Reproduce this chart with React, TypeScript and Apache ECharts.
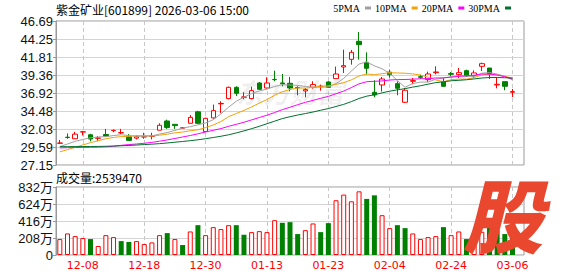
import React, { useEffect, useRef } from 'react';
import * as echarts from 'echarts';

const dates = [
  '12-03','12-04','12-05','12-08','12-09','12-10','12-11','12-12','12-15','12-16',
  '12-17','12-18','12-19','12-22','12-23','12-24','12-25','12-26','12-29','12-30',
  '12-31','01-05','01-06','01-07','01-08','01-09','01-12','01-13','01-14','01-15',
  '01-16','01-19','01-20','01-21','01-22','01-23','01-26','01-27','01-28','01-29',
  '01-30','02-02','02-03','02-04','02-05','02-06','02-09','02-10','02-11','02-12',
  '02-13','02-24','02-25','02-26','02-27','03-02','03-03','03-04','03-05','03-06',
];
const labelDates = ['12-08','12-18','12-30','01-13','01-23','02-04','02-24','03-06'];

const openP = [
  30.10,30.92,30.71,31.62,31.25,30.78,31.29,31.81,31.50,30.98,
  30.80,30.95,31.05,31.87,33.12,32.67,32.15,32.81,34.37,31.69,
  33.54,35.45,36.16,37.69,36.35,36.16,38.28,37.60,38.76,38.28,
  38.24,37.67,37.20,37.69,37.80,38.42,38.87,40.45,41.49,43.93,
  41.08,37.02,38.01,39.75,38.19,35.66,38.51,39.14,38.73,39.68,
  38.42,39.55,39.41,39.95,39.28,40.54,40.31,38.01,38.46,37.02,
];
const closeP = [
  30.13,30.88,31.34,31.66,30.67,30.82,31.07,31.85,31.54,30.49,
  30.98,31.00,31.09,32.54,32.23,32.50,32.20,33.61,32.81,33.48,
  34.53,35.50,37.69,36.88,36.38,37.24,37.42,38.28,38.73,38.19,
  37.60,37.63,37.38,38.06,37.85,37.69,39.50,40.63,42.44,43.48,
  40.27,36.65,38.82,39.40,37.56,37.29,38.60,39.05,39.50,39.77,
  37.83,39.46,39.68,39.28,39.64,40.90,39.46,38.10,37.83,37.11,
];
const lowP = [
  30.08,30.71,30.68,31.16,30.36,30.36,30.94,31.60,31.34,30.40,
  30.62,30.71,30.62,31.87,32.05,32.05,32.10,32.81,32.72,31.60,
  33.45,34.22,36.07,36.52,36.07,36.07,37.33,37.51,38.51,37.83,
  37.15,36.61,36.34,37.51,37.24,37.60,38.87,39.64,40.77,41.45,
  39.41,36.34,37.11,39.00,36.61,35.57,38.10,38.82,38.42,39.46,
  37.74,39.19,38.96,39.10,38.96,39.91,38.82,37.56,37.29,36.38,
];
const highP = [
  30.55,31.43,31.65,31.78,31.38,31.07,32.05,31.96,32.05,31.34,
  31.16,31.52,31.52,32.81,33.30,32.67,32.28,33.92,34.50,33.57,
  35.35,35.80,37.78,37.83,37.02,37.78,38.42,39.05,39.95,39.50,
  39.10,37.83,37.60,38.51,38.06,38.51,40.50,42.80,42.76,45.20,
  42.44,38.64,39.09,40.10,38.51,37.60,38.96,39.41,39.82,40.54,
  38.96,39.77,40.31,40.09,40.00,41.04,40.31,38.96,38.46,37.47,
];

const ma5 = [
  29.65,30.00,30.36,30.62,30.85,30.95,31.00,31.15,31.25,31.15,
  31.05,31.05,31.10,31.35,31.55,31.85,32.15,32.35,32.60,32.85,
  33.30,34.10,35.00,35.80,36.35,36.85,37.20,37.45,37.80,38.05,
  38.00,37.95,37.80,37.72,37.71,37.75,38.20,38.90,39.90,40.85,
  41.15,40.60,40.20,39.60,38.60,37.70,38.20,38.40,38.40,38.80,
  38.95,39.12,39.25,39.20,39.18,39.60,39.70,39.48,39.19,38.70,
];
const ma10 = [
  28.93,29.24,29.55,29.87,30.18,30.45,30.71,30.89,31.00,31.04,
  31.13,31.13,31.10,31.19,31.34,31.51,31.62,31.80,31.93,32.23,
  32.58,33.05,33.71,34.14,34.56,35.03,35.55,36.02,36.61,37.08,
  37.39,37.61,37.58,37.69,37.84,37.89,38.09,38.33,38.70,39.23,
  39.50,39.40,39.54,39.67,39.64,39.60,39.51,39.36,39.06,38.69,
  38.45,38.73,38.81,38.80,39.01,39.37,39.46,39.36,39.20,38.93,
];
const ma20 = [
  29.47,29.50,29.52,29.54,29.56,29.58,29.62,29.70,29.82,29.92,
  30.00,30.10,30.22,30.38,30.55,30.75,30.95,31.15,31.38,31.63,
  31.86,32.09,32.40,32.67,32.95,33.27,33.59,33.91,34.27,34.66,
  34.99,35.33,35.65,35.92,36.20,36.46,36.82,37.18,37.66,38.16,
  38.45,38.51,38.56,38.68,38.74,38.75,38.80,38.85,38.88,38.96,
  38.98,39.07,39.18,39.24,39.33,39.49,39.49,39.36,39.13,38.81,
];
const ma30 = [
  29.64,29.64,29.65,29.65,29.66,29.67,29.69,29.72,29.76,29.80,
  29.86,29.92,29.98,30.05,30.14,30.24,30.34,30.45,30.57,30.72,
  30.88,31.05,31.25,31.50,31.78,32.08,32.40,32.75,33.10,33.45,
  33.70,33.93,34.13,34.34,34.58,34.81,35.09,35.38,35.75,36.18,
  36.49,36.68,36.94,37.17,37.35,37.51,37.72,37.90,38.12,38.33,
  38.44,38.58,38.64,38.72,38.83,38.95,39.02,39.02,38.99,38.95,
];

// volume in 万手
const volume = [
  195,264,231,207,195,110,243,219,170,158,
  170,134,154,243,268,195,122,288,365,243,
  341,317,365,365,248,280,292,280,426,394,
  402,256,304,386,280,390,670,739,657,779,
  686,730,487,329,365,329,264,195,219,231,
  341,243,288,195,230,284,406,300,256,254,
];
// 1 = red (rise vs previous close), 0 = green
const volDir = [
  1,1,1,1,0,1,1,1,0,0,
  1,1,1,1,0,1,0,1,0,1,
  1,1,1,0,0,1,1,1,1,0,
  0,0,1,1,0,0,1,1,1,1,
  0,0,1,1,0,0,1,1,1,1,
  0,1,1,0,1,1,0,0,0,0,
];

const priceTicks = ['27.15','29.59','32.03','34.48','36.92','39.36','41.81','44.25','46.69'];
const volTicks = ['0','208万','416万','624万','832万'];
const maNames = ['5PMA','10PMA','20PMA','30PMA'];
const maColors = ['#a0a0a0','#f0a30a','#ff00ff','#00702e'];

const RED = '#ff0000';
const GREEN = '#008000';

export default function App() {
  const ref = useRef<HTMLDivElement>(null);
  useEffect(() => {
    document.body.style.margin = '0';
    if (!ref.current) return;
    const chart = echarts.init(ref.current, undefined, { renderer: 'svg' });
    const cats = [...dates, ''];
    const pMin = Number(priceTicks[0]);
    const pMax = Number(priceTicks[priceTicks.length - 1]);
    const pStep = (pMax - pMin) / (priceTicks.length - 1);
    const vMax = parseFloat(volTicks[volTicks.length - 1]);
    const vStep = vMax / (volTicks.length - 1);
    const showLabel = (_i: number, v: string) => labelDates.includes(v);
    const sansNum = 'Liberation Sans, Arial, Noto Sans CJK SC, sans-serif';
    const cjk = 'Noto Sans CJK SC, sans-serif';
    const maSeries = [ma5, ma10, ma20, ma30].map((d, k) => ({
      name: maNames[k],
      type: 'line',
      xAxisIndex: 0,
      yAxisIndex: 0,
      data: d,
      symbol: 'none',
      showSymbol: false,
      smooth: false,
      lineStyle: { width: 1, color: maColors[k] },
      itemStyle: { color: maColors[k] },
      z: 3,
    }));
    const option: any = {
      animation: false,
      backgroundColor: '#ffffff',
      title: [
        {
          text: '紫金矿业[601899] 2026-03-06 15:00',
          left: 56, top: 3, padding: 0,
          textStyle: { fontSize: 12, fontWeight: 'normal', color: '#000', fontFamily: cjk, lineHeight: 13 },
        },
        {
          text: '成交量:2539470',
          left: 56, top: 171, padding: 0,
          textStyle: { fontSize: 12, fontWeight: 'normal', color: '#000', fontFamily: cjk, lineHeight: 13 },
        },
      ],
      legend: {
        data: maNames,
        right: 67, top: 3, padding: 0,
        align: 'right',
        icon: 'rect',
        itemWidth: 6, itemHeight: 3, itemGap: 4,
        selectedMode: false,
        textStyle: { fontSize: 10, color: '#000', fontFamily: 'Liberation Serif, serif' },
      },
      grid: [
        { left: 56, top: 21, width: 468, height: 144, show: true, borderColor: '#999', borderWidth: 1 },
        { left: 56, top: 187, width: 468, height: 68, show: true, borderColor: '#999', borderWidth: 1 },
      ],
      xAxis: [
        {
          type: 'category', gridIndex: 0, data: cats, boundaryGap: true,
          axisLine: { show: false }, axisTick: { show: false }, axisLabel: { show: false },
          splitLine: { show: true, interval: showLabel, alignWithLabel: true, lineStyle: { color: '#c8c8c8', type: [4, 3], width: 1 } },
        },
        {
          type: 'category', gridIndex: 1, data: cats, boundaryGap: true,
          axisLine: { show: false }, axisTick: { show: false },
          axisLabel: { interval: showLabel, color: RED, fontSize: 11, margin: 5, fontFamily: 'DejaVu Sans, sans-serif' },
          splitLine: { show: true, interval: showLabel, alignWithLabel: true, lineStyle: { color: '#c8c8c8', type: [4, 3], width: 1 } },
        },
      ],
      yAxis: [
        {
          type: 'value', gridIndex: 0, min: pMin, max: pMax, interval: pStep, scale: true,
          axisLine: { show: true, lineStyle: { color: '#999' } },
          axisTick: { show: true, length: 3, lineStyle: { color: '#999' } },
          axisLabel: {
            color: '#111', fontSize: 13, margin: 3, fontFamily: sansNum,
            formatter: (v: number) => priceTicks[Math.round((v - pMin) / pStep)] ?? '',
          },
          splitLine: { show: true, lineStyle: { color: '#d4d4d4', width: 1 } },
        },
        {
          type: 'value', gridIndex: 1, min: 0, max: vMax, interval: vStep,
          axisLine: { show: true, lineStyle: { color: '#999' } },
          axisTick: { show: true, length: 3, lineStyle: { color: '#999' } },
          axisLabel: {
            color: '#111', fontSize: 13, margin: 3, fontFamily: sansNum,
            formatter: (v: number) => volTicks[Math.round(v / vStep)] ?? '',
          },
          splitLine: { show: true, lineStyle: { color: '#d4d4d4', width: 1 } },
        },
      ],
      graphic: [
        {
          type: 'text', left: 236, top: 78, z: 1, silent: true,
          style: { text: '东方财富', fontSize: 27, fontStyle: 'italic', fontWeight: 'bold', fontFamily: cjk, fill: 'rgba(0,0,0,0.07)' },
        },
        {
          type: 'text', left: 463, top: 172, z: 100, silent: true,
          style: { text: '股', fontSize: 80, fontStyle: 'italic', fontWeight: 900, fontFamily: cjk, fill: '#e9482f' },
        },
      ],
      series: [
        {
          name: 'K',
          type: 'candlestick',
          xAxisIndex: 0, yAxisIndex: 0,
          barWidth: 5,
          data: dates.map((_, i) => [openP[i], closeP[i], lowP[i], highP[i]]),
          itemStyle: { color: '#ffffff', color0: GREEN, borderColor: RED, borderColor0: GREEN, borderWidth: 1 },
          z: 2,
        },
        ...maSeries,
        {
          name: 'VOL',
          type: 'bar',
          xAxisIndex: 1, yAxisIndex: 1,
          barWidth: 5,
          data: volume.map((v, i) => ({
            value: v,
            itemStyle: volDir[i]
              ? { color: '#ffffff', borderColor: RED, borderWidth: 1 }
              : { color: GREEN, borderColor: GREEN, borderWidth: 0 },
          })),
        },
      ],
    };
    chart.setOption(option);
    return () => chart.dispose();
  }, []);
  return <div ref={ref} style={{ width: 578, height: 276 }} />;
}
